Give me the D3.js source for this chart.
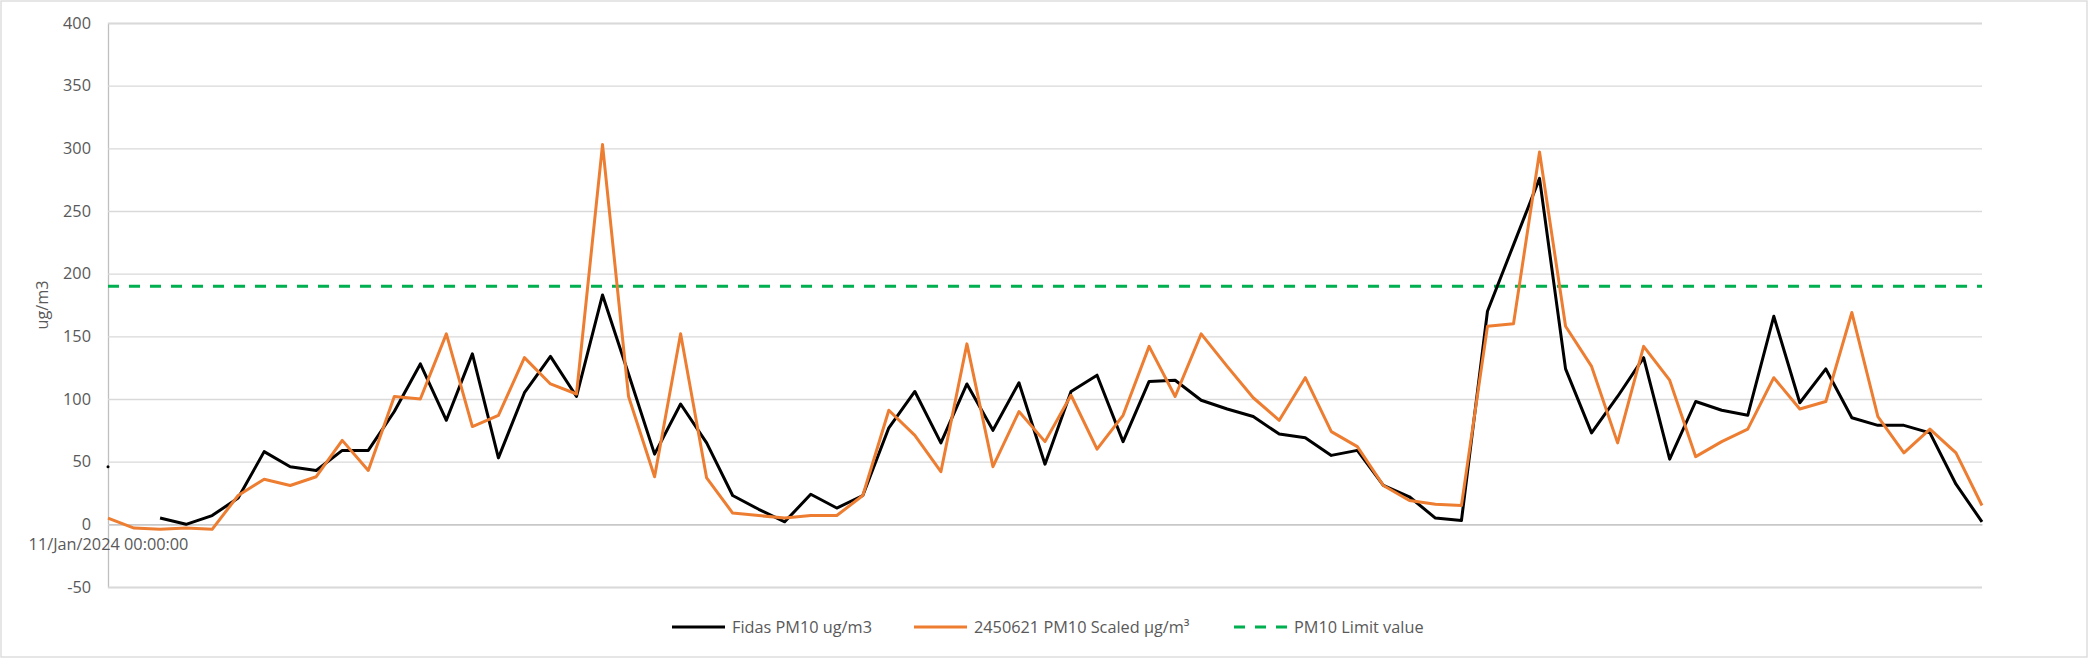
<!DOCTYPE html>
<html>
<head>
<meta charset="utf-8">
<script src="https://cdn.jsdelivr.net/npm/d3@7"></script>
<style>
  html, body { margin: 0; padding: 0; background: #fff; }
  svg text { font-family: "Open Sans", sans-serif; fill: #595959; }
</style>
</head>
<body>
<div id="chart"></div>
<script>
// data, one value per hour
const fidas = [46, null, 5, 0, 7, 21, 58, 46, 43, 59,
  59, 90, 128, 83, 136, 53, 105, 134, 102, 183,
  120, 56, 96, 65, 23, 12, 2, 24, 13, 23,
  77, 106, 65, 112, 75, 113, 48, 106, 119, 66,
  114, 115, 99, 92, 86, 72, 69, 55, 59, 31,
  22, 5, 3, 170, 223, 276, 124, 73, 102, 133,
  52, 98, 91, 87, 166, 97, 124, 85, 79, 79,
  73, 32, 2];
const scaled = [5, -3, -4, -3, -4, 23, 36, 31, 38, 67,
  43, 102, 100, 152, 78, 87, 133, 112, 104, 303,
  102, 38, 152, 37, 9, 7, 5, 7, 7, 23,
  91, 71, 42, 144, 46, 90, 66, 103, 60, 87,
  142, 102, 152, 126, 101, 83, 117, 74, 62, 31,
  19, 16, 15, 158, 160, 297, 158, 126, 65, 142,
  115, 54, 66, 76, 117, 92, 98, 169, 86, 57,
  76, 57, 15];
const limitValue = 190;
const categories = d3.range(fidas.length);
const xTickLabels = ["11/Jan/2024 00:00:00"];
const yTicks = [-50, 0, 50, 100, 150, 200, 250, 300, 350, 400];
const seriesNames = ["Fidas PM10 ug/m3", "2450621 PM10 Scaled \u00b5g/m\u00b3", "PM10 Limit value"];

var width = 2089, height = 659;
var margin = {top: 23, right: 107, bottom: 72, left: 108};
var fontSize = "16.3px";

var svg = d3.select("#chart").append("svg")
  .attr("width", width)
  .attr("height", height);

// chart area border
svg.append("rect")
  .attr("x", 1).attr("y", 1)
  .attr("width", width - 3).attr("height", height - 3)
  .attr("fill", "#fff")
  .attr("stroke", "#d9d9d9")
  .attr("stroke-width", 1.3);

var x = d3.scalePoint()
  .domain(categories)
  .range([margin.left, width - margin.right]);

var y = d3.scaleLinear()
  .domain([-50, 400])
  .range([height - margin.bottom, margin.top]);

// gridlines + y labels
var yAxis = svg.append("g")
  .attr("transform", `translate(${margin.left},0)`)
  .call(d3.axisLeft(y).tickValues(yTicks).tickSize(-(width - margin.right - margin.left)).tickPadding(17)
    .tickFormat(function(d) { return String(d); }));
yAxis.select(".domain").attr("stroke", "#bfbfbf").attr("stroke-width", 1.3);
yAxis.selectAll(".tick line").attr("stroke", "#d9d9d9").attr("stroke-width", 1.3);
yAxis.selectAll(".tick text").style("font-size", fontSize).attr("fill", "#595959");

// category axis sits at zero
var xAxis = svg.append("g")
  .attr("transform", `translate(0,${y(0)})`)
  .call(d3.axisBottom(x).tickValues([0]).tickSize(0).tickPadding(14)
    .tickFormat(function(d, i) { return xTickLabels[i]; }));
xAxis.select(".domain").attr("stroke", "#bfbfbf").attr("stroke-width", 1.3);
xAxis.selectAll(".tick text").style("font-size", fontSize).attr("fill", "#595959");

// axis title
svg.append("text")
  .attr("transform", `translate(42,305) rotate(-90)`)
  .attr("text-anchor", "middle")
  .attr("dy", "0.35em")
  .style("font-size", fontSize)
  .text("ug/m3");

var line = d3.line()
  .defined(function(d) { return d != null; })
  .x(function(d, i) { return x(i); })
  .y(function(d) { return y(d); });

// limit line
svg.append("line")
  .attr("x1", x(0)).attr("x2", x(categories.length - 1))
  .attr("y1", y(limitValue)).attr("y2", y(limitValue))
  .attr("stroke", "#00b050")
  .attr("stroke-width", 3)
  .attr("stroke-dasharray", "11,10");

svg.append("path")
  .datum(fidas)
  .attr("fill", "none")
  .attr("stroke", "#000")
  .attr("stroke-width", 3)
  .attr("stroke-linejoin", "round")
  .attr("d", line);

// lone points with no neighbours still leave a dot
svg.append("g").selectAll("circle")
  .data(fidas.map(function(d, i) { return {v: d, i: i}; })
    .filter(function(d) { return d.v != null && fidas[d.i - 1] == null && fidas[d.i + 1] == null; }))
  .enter().append("circle")
  .attr("cx", function(d) { return x(d.i); })
  .attr("cy", function(d) { return y(d.v); })
  .attr("r", 1.5)
  .attr("fill", "#000");

svg.append("path")
  .datum(scaled)
  .attr("fill", "none")
  .attr("stroke", "#ed7d31")
  .attr("stroke-width", 3)
  .attr("stroke-linejoin", "round")
  .attr("d", line);

// legend
var legendItems = [
  {name: seriesNames[0], color: "#000", dash: null, x: 672},
  {name: seriesNames[1], color: "#ed7d31", dash: null, x: 914},
  {name: seriesNames[2], color: "#00b050", dash: "11,10", x: 1234}
];
var legend = svg.append("g").selectAll("g")
  .data(legendItems)
  .enter().append("g")
  .attr("transform", function(d) { return `translate(${d.x},627)`; });
legend.append("line")
  .attr("x1", 0).attr("x2", 53)
  .attr("stroke", function(d) { return d.color; })
  .attr("stroke-width", 3)
  .attr("stroke-dasharray", function(d) { return d.dash; });
legend.append("text")
  .attr("x", 60)
  .attr("dy", "0.35em")
  .style("font-size", fontSize)
  .text(function(d) { return d.name; });
</script>
</body>
</html>
